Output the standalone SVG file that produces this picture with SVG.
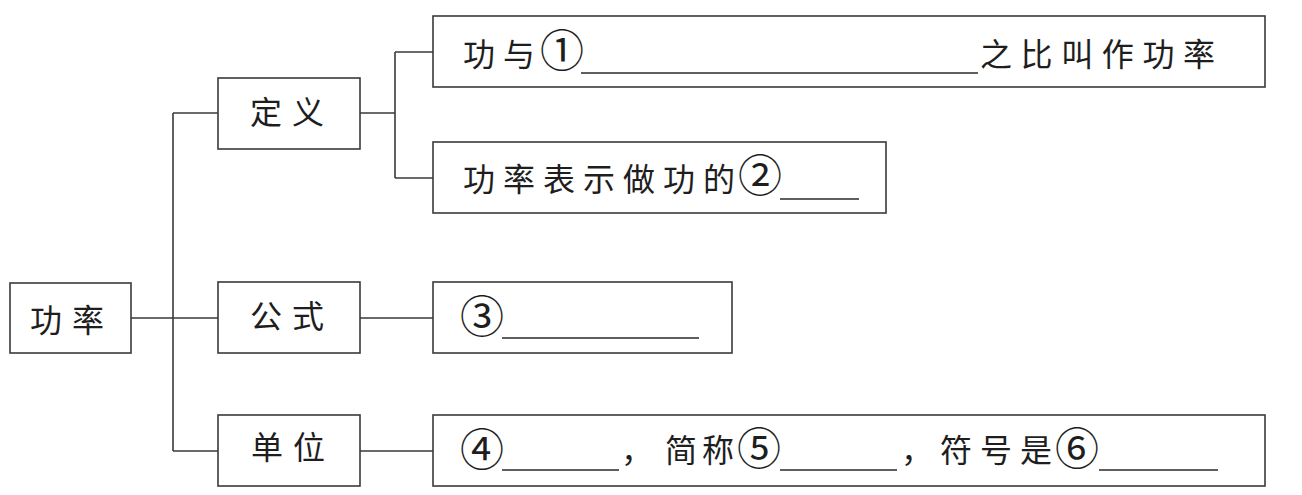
<svg xmlns="http://www.w3.org/2000/svg" width="1302" height="495" viewBox="0 0 1302 495">
<style>
.box{fill:#fff;stroke:#3a3a3a;stroke-width:1.6}
.ln{fill:none;stroke:#3a3a3a;stroke-width:1.6}
.bl{stroke:#2a2a2a;stroke-width:1.6}
text{font-family:"Noto Sans CJK SC","Noto Sans CJK TC",sans-serif;fill:#1e1e1e;font-size:32px}
.lab{letter-spacing:10px}
.t{letter-spacing:8px}
.n{font-size:44px}
</style>
<rect width="1302" height="495" fill="#fff"/>
<g id="connectors">
<path class="ln" d="M131 318 H173 M173 113 V451 M173 113 H218 M173 318 H218 M173 451 H218"/>
<path class="ln" d="M360 113 H395 M395 52 V178 M395 52 H433 M395 178 H433"/>
<path class="ln" d="M360 318 H433 M360 451 H433"/>
</g>
<g id="node-gonglv">
<rect class="box" x="10" y="283" width="121" height="70"/>
<text class="lab" x="30" y="332">功率</text>
</g>
<g id="node-dingyi">
<rect class="box" x="218" y="78" width="142" height="71"/>
<text class="lab" x="250" y="124">定义</text>
</g>
<g id="node-gongshi">
<rect class="box" x="218" y="282" width="142" height="71"/>
<text class="lab" x="250" y="328">公式</text>
</g>
<g id="node-danwei">
<rect class="box" x="218" y="415" width="142" height="71"/>
<text class="lab" x="251" y="459">单位</text>
</g>
<g id="node-def1">
<rect class="box" x="433" y="16" width="832" height="71"/>
<text class="t" x="463" y="66">功与</text>
<text class="n" x="540" y="67">①</text>
<line class="bl" x1="581" y1="73" x2="978" y2="73"/>
<text class="t" x="980" y="66" style="letter-spacing:8.6px">之比叫作功率</text>
</g>
<g id="node-def2">
<rect class="box" x="433" y="142" width="453" height="71"/>
<text class="t" x="463" y="191">功率表示做功的</text>
<text class="n" x="738" y="192">②</text>
<line class="bl" x1="780" y1="199" x2="859" y2="199"/>
</g>
<g id="node-formula">
<rect class="box" x="433" y="282" width="299" height="71"/>
<text class="n" x="460" y="333">③</text>
<line class="bl" x1="502" y1="338" x2="699" y2="338"/>
</g>
<g id="node-unit">
<rect class="box" x="433" y="415" width="832" height="71"/>
<text class="n" x="460" y="466">④</text>
<line class="bl" x1="502" y1="470" x2="619" y2="470"/>
<text x="621" y="462">，</text>
<text class="t" x="665" y="462" style="letter-spacing:5px">简称</text>
<text class="n" x="737" y="465">⑤</text>
<line class="bl" x1="780" y1="470" x2="897" y2="470"/>
<text x="901" y="462">，</text>
<text class="t" x="940" y="462">符号是</text>
<text class="n" x="1055" y="465">⑥</text>
<line class="bl" x1="1099" y1="470" x2="1218" y2="470"/>
</g>
</svg>
